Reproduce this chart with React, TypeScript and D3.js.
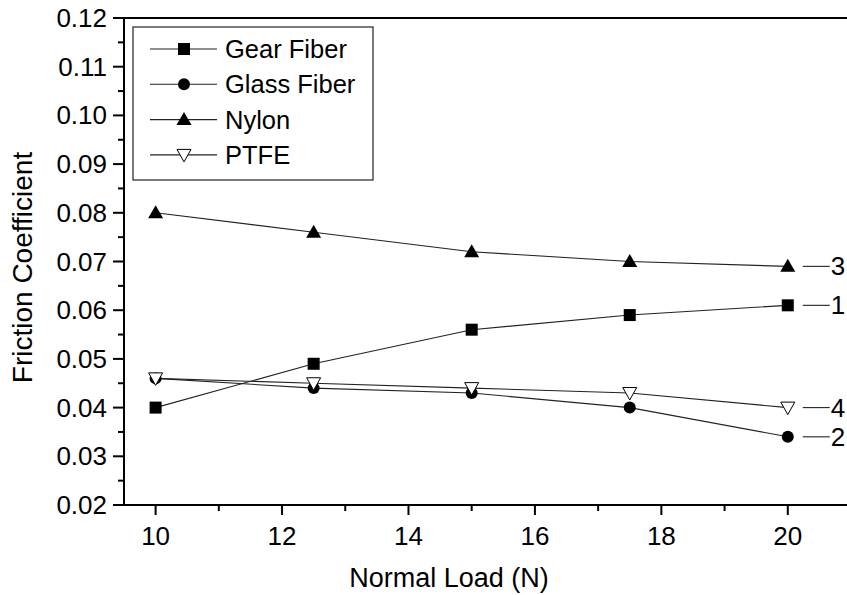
import React from "react";
import * as d3 from "d3";

const loads = [10, 12.5, 15, 17.5, 20];
const seriesNames = ["Gear Fiber", "Glass Fiber", "Nylon", "PTFE"];
const gearFiber = [0.040, 0.049, 0.056, 0.059, 0.061];
const glassFiber = [0.046, 0.044, 0.043, 0.040, 0.034];
const nylon = [0.080, 0.076, 0.072, 0.070, 0.069];
const ptfe = [0.046, 0.045, 0.044, 0.043, 0.040];
const endLabels = ["1", "2", "3", "4"];
const yTicks = [0.02, 0.03, 0.04, 0.05, 0.06, 0.07, 0.08, 0.09, 0.1, 0.11, 0.12];
const xTicks = [10, 12, 14, 16, 18, 20];

const W = 847, H = 595;
const FONT = "'Liberation Sans', Arial, sans-serif";

function Marker({ kind, x, y }: { kind: string; x: number; y: number }) {
  if (kind === "square") return <rect x={x - 6} y={y - 6} width={12} height={12} fill="#000" />;
  if (kind === "circle") return <circle cx={x} cy={y} r={6} fill="#000" />;
  if (kind === "tri")
    return <path d={`M${x},${y - 7.5}L${x + 7.5},${y + 5.5}L${x - 7.5},${y + 5.5}Z`} fill="#000" />;
  return (
    <path d={`M${x - 7},${y - 5.5}L${x + 7},${y - 5.5}L${x},${y + 7}Z`} fill="#fff" stroke="#000" strokeWidth={1} />
  );
}

export default function App() {
  const x = d3.scaleLinear().domain([9.5, 21]).range([124, 851]);
  const y = d3.scaleLinear().domain([0.02, 0.12]).range([505, 18]);
  const data = [gearFiber, glassFiber, nylon, ptfe];
  const kinds = ["square", "circle", "tri", "itri"];
  const line = d3
    .line<number>()
    .x((_, i) => x(loads[i]))
    .y((d) => y(d));
  const minorY = d3.range(0.025, 0.12, 0.01);
  const minorX = [11, 13, 15, 17, 19, 21];
  const lastX = x(loads[loads.length - 1]);

  return (
    <svg width={W} height={H} style={{ position: "absolute", left: 0, top: 0, background: "#fff" }} fontFamily={FONT}>
      <rect x={0} y={0} width={W} height={H} fill="#fff" />
      {/* series lines */}
      {data.map((s, k) => (
        <path key={"l" + k} d={line(s) || ""} fill="none" stroke="#222" strokeWidth={1.1} />
      ))}
      {data.map((s, k) =>
        s.map((v, i) => <Marker key={`m${k}-${i}`} kind={kinds[k]} x={x(loads[i])} y={y(v)} />)
      )}
      {/* end labels */}
      {data.map((s, k) => {
        const yy = y(s[s.length - 1]);
        return (
          <g key={"e" + k}>
            <line x1={lastX + 15} x2={lastX + 42} y1={yy} y2={yy} stroke="#222" strokeWidth={1.1} />
            <text x={lastX + 43} y={yy} dominantBaseline="central" fontSize={26} fill="#000">
              {endLabels[k]}
            </text>
          </g>
        );
      })}
      {/* axes */}
      <line x1={124} x2={W} y1={18} y2={18} stroke="#000" strokeWidth={2} />
      <line x1={124} x2={W} y1={505} y2={505} stroke="#000" strokeWidth={2} />
      <line x1={124} x2={124} y1={17} y2={506} stroke="#000" strokeWidth={2} />
      {yTicks.map((t) => (
        <g key={"yt" + t}>
          <line x1={113} x2={124} y1={y(t)} y2={y(t)} stroke="#000" strokeWidth={2} />
          <text x={107} y={y(t)} textAnchor="end" dominantBaseline="central" fontSize={26} fill="#000">
            {d3.format(".2f")(t)}
          </text>
        </g>
      ))}
      {minorY.map((t) => (
        <line key={"ym" + t} x1={118} x2={124} y1={y(t)} y2={y(t)} stroke="#000" strokeWidth={2} />
      ))}
      {xTicks.map((t) => (
        <g key={"xt" + t}>
          <line x1={x(t)} x2={x(t)} y1={505} y2={515} stroke="#000" strokeWidth={2} />
          <text x={x(t)} y={536} textAnchor="middle" dominantBaseline="central" fontSize={26} fill="#000">
            {t}
          </text>
        </g>
      ))}
      {minorX.map((t) => (
        <line key={"xm" + t} x1={x(t)} x2={x(t)} y1={505} y2={511} stroke="#000" strokeWidth={2} />
      ))}
      <text x={449} y={578} textAnchor="middle" dominantBaseline="central" fontSize={27} fill="#000">
        Normal Load (N)
      </text>
      <text
        transform={`translate(22,${(18 + 505) / 2 + 6}) rotate(-90)`}
        textAnchor="middle"
        dominantBaseline="central"
        fontSize={28}
        fill="#000"
      >
        Friction Coefficient
      </text>
      {/* legend */}
      <rect x={133} y={27} width={240} height={153} fill="#fff" stroke="#222" strokeWidth={1.2} />
      {seriesNames.map((n, k) => {
        const ly = 49 + k * 35.3;
        return (
          <g key={"lg" + k}>
            <line x1={150} x2={217} y1={ly} y2={ly} stroke="#222" strokeWidth={1.1} />
            <Marker kind={kinds[k]} x={184} y={ly} />
            <text x={225} y={ly} dominantBaseline="central" fontSize={25.5} fill="#000">
              {n}
            </text>
          </g>
        );
      })}
    </svg>
  );
}
